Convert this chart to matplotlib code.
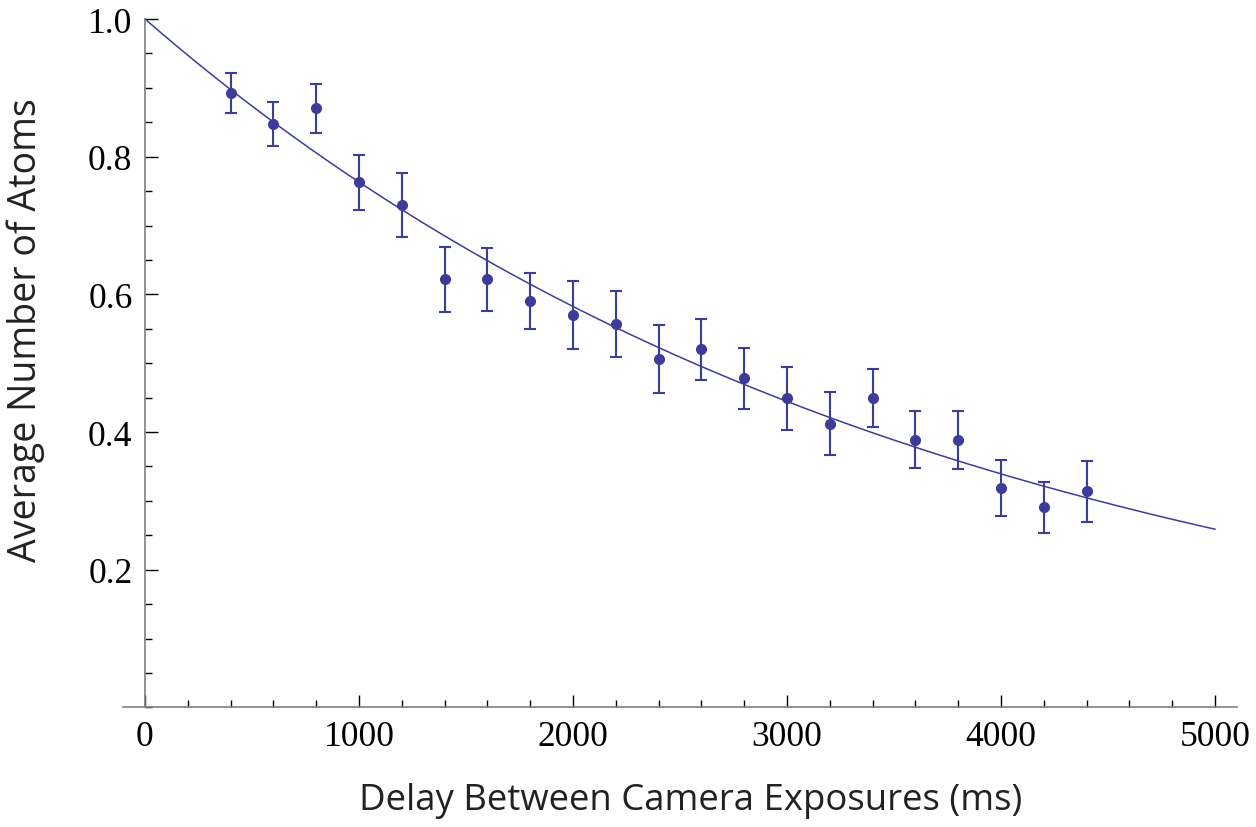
import numpy as np
import matplotlib
matplotlib.use("Agg")
import matplotlib.pyplot as plt
from matplotlib.ticker import MultipleLocator

# ── Data ────────────────────────────────────────────────────────────────────
delay_ms = [400, 600, 800, 1000, 1200, 1400, 1600, 1800, 2000, 2200, 2400,
            2600, 2800, 3000, 3200, 3400, 3600, 3800, 4000, 4200, 4400]
mean_atoms = [0.892, 0.847, 0.870, 0.763, 0.730, 0.622, 0.622, 0.590, 0.570,
              0.557, 0.506, 0.520, 0.478, 0.449, 0.412, 0.449, 0.389, 0.389,
              0.319, 0.291, 0.314]
err_atoms = [0.029, 0.032, 0.036, 0.040, 0.047, 0.047, 0.046, 0.041, 0.049,
             0.048, 0.049, 0.044, 0.044, 0.046, 0.046, 0.042, 0.041, 0.042,
             0.041, 0.037, 0.044]

# exponential fit  N(t) = N0 * exp(-t / tau)
fit_n0 = 1.0
fit_tau = 3700.0
fit_range = (0, 5000)

COLOR = "#3d3d99"
AXIS_GRAY = "#7f7f7f"

fig = plt.figure(figsize=(12.56, 8.28), dpi=100)
ax = fig.add_axes([122.7 / 1256, 119.6 / 828, (1237 - 122.7) / 1256, (708.4 - 20) / 828])

t = np.linspace(fit_range[0], fit_range[1], 400)
ax.plot(t, fit_n0 * np.exp(-t / fit_tau), color=COLOR, lw=1.1, clip_on=False, zorder=2)
ax.errorbar(delay_ms, mean_atoms, yerr=err_atoms, fmt="o", color=COLOR, ms=7,
            elinewidth=1.5, capsize=4.6, capthick=1.5, zorder=3)

ax.set_xlim(-104, 5103)
ax.set_ylim(0, 1.0)

for side in ("top", "right"):
    ax.spines[side].set_visible(False)
ax.spines["left"].set_position(("data", 0))
ax.spines["bottom"].set_position(("data", 0))
for side in ("left", "bottom"):
    ax.spines[side].set_color(AXIS_GRAY)
    ax.spines[side].set_linewidth(1.2)

ax.xaxis.set_minor_locator(MultipleLocator(200))
ax.yaxis.set_minor_locator(MultipleLocator(0.05))
ax.set_yticks([0.2, 0.4, 0.6, 0.8, 1.0])
ax.set_yticklabels(["0.2", "0.4", "0.6", "0.8", "1.0"])
ax.set_xticks([0, 1000, 2000, 3000, 4000, 5000])
ax.set_xticklabels(["0", "1000", "2000", "3000", "4000", "5000"])

ax.tick_params(which="both", direction="in", color="black", width=1.0)
ax.tick_params(which="major", length=9)
ax.tick_params(which="minor", length=5)
ax.tick_params(axis="x", which="major", pad=9)
ax.tick_params(axis="y", which="major", pad=9)
for lab in ax.get_xticklabels() + ax.get_yticklabels():
    lab.set_family("Liberation Serif")
    lab.set_fontsize(25.5)

ax.set_xlabel("Delay Between Camera Exposures (ms)", family="Open Sans",
              fontsize=26.3, color="#222222")
ax.set_ylabel("Average Number of Atoms", family="Open Sans",
              fontsize=27, color="#222222")
ax.xaxis.set_label_coords(0.51, -0.108)
ax.yaxis.set_label_coords(-0.07, 0.55)

fig.savefig("out.png", dpi=100)
plt.close(fig)
